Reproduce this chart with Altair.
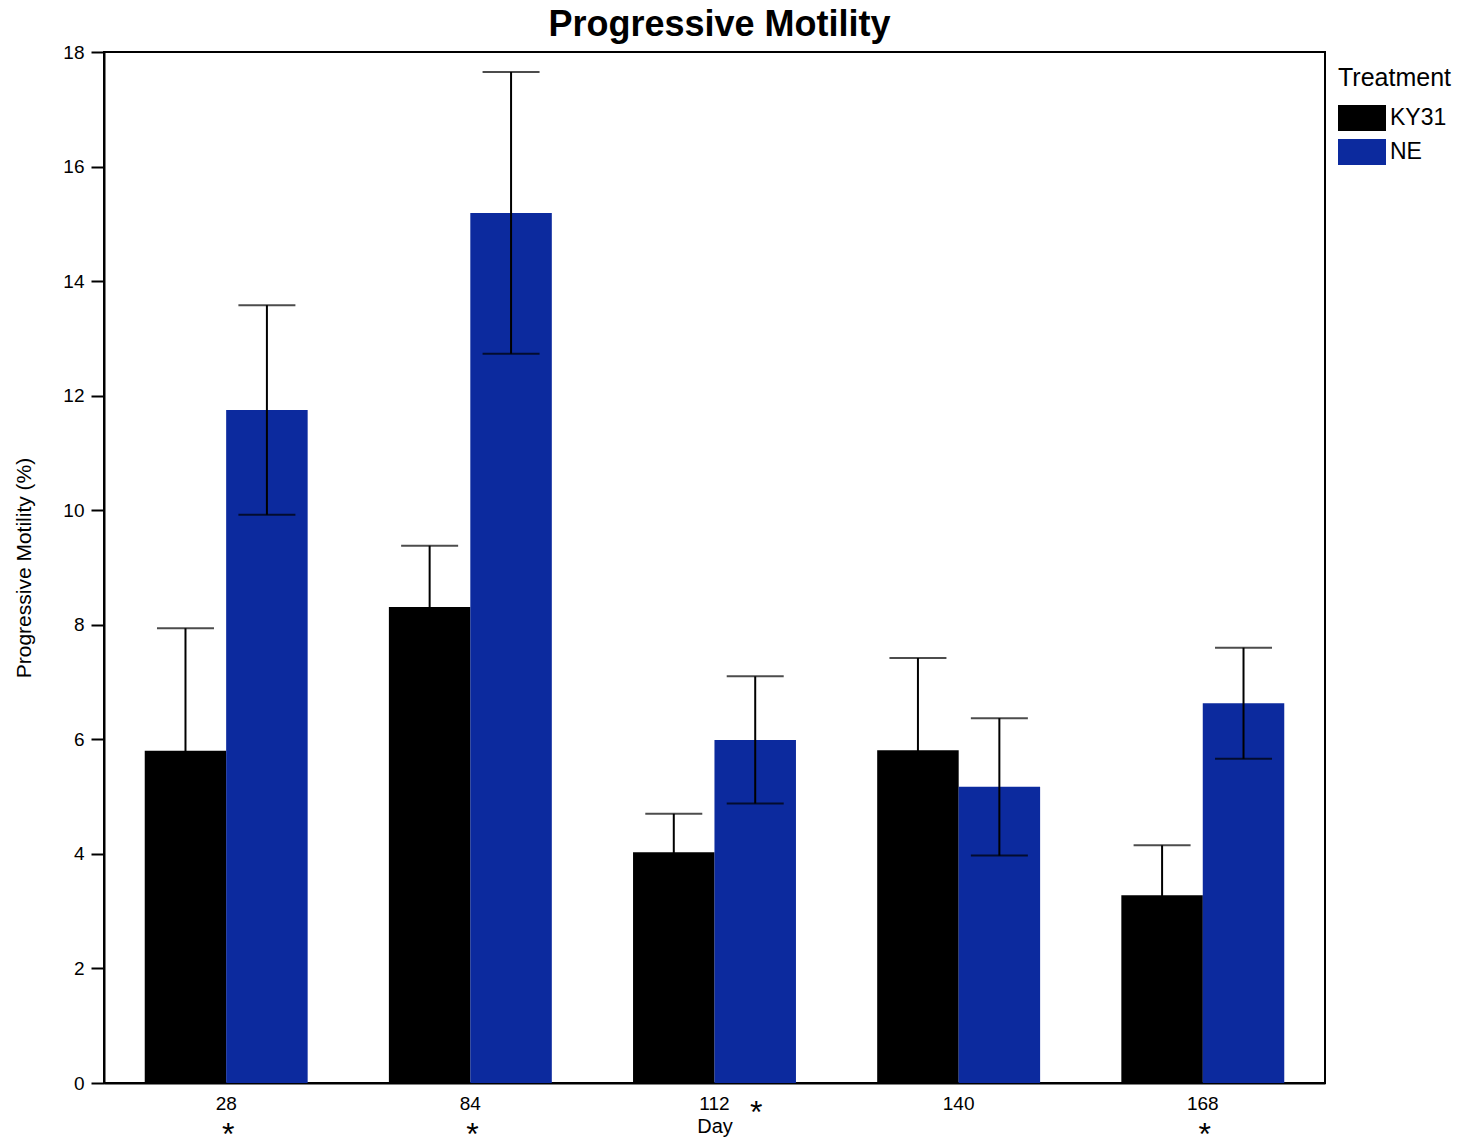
import altair as alt
import pandas as pd

days = ["28", "84", "112", "140", "168"]
treatments = ["KY31", "NE"]
ky31_mean = [5.80, 8.31, 4.03, 5.81, 3.28]
ky31_err = [2.14, 1.07, 0.67, 1.61, 0.87]
ne_mean = [11.75, 15.19, 5.99, 5.17, 6.63]
ne_err = [1.83, 2.46, 1.11, 1.20, 0.97]
colors = ["#000000", "#0c2a9e"]

sig_center_days = ["28", "84", "168"]
sig_ne_days = ["112"]

rows = []
for i, d in enumerate(days):
    rows.append({"Day": d, "Treatment": "KY31", "mean": ky31_mean[i],
                 "lo": ky31_mean[i] - ky31_err[i], "hi": ky31_mean[i] + ky31_err[i]})
    rows.append({"Day": d, "Treatment": "NE", "mean": ne_mean[i],
                 "lo": ne_mean[i] - ne_err[i], "hi": ne_mean[i] + ne_err[i]})
df = pd.DataFrame(rows)

FONT = "Liberation Sans"

x_enc = alt.X("Day:N", sort=days,
              scale=alt.Scale(paddingInner=0.333, paddingOuter=0.167),
              axis=alt.Axis(title="Day", ticks=False, labelAngle=0, labelFontSize=19,
                            titleFontSize=20, titleFontWeight="normal", labelPadding=11,
                            titlePadding=3, domainColor="black", domainWidth=2,
                            labelColor="black", titleColor="black"))
xoff = alt.XOffset("Treatment:N", sort=treatments, scale=alt.Scale(paddingInner=0, paddingOuter=0))

y_scale = alt.Scale(domain=[0, 18], nice=False)
y_axis = alt.Axis(title="Progressive Motility (%)", values=list(range(0, 19, 2)), format="d",
                  grid=False, tickSize=13, tickWidth=2, tickColor="black", labelFontSize=19,
                  titleFontSize=21, titleFontWeight="normal", labelPadding=7,
                  titlePadding=28, domainColor="black", domainWidth=2,
                  labelColor="black", titleColor="black")

base = alt.Chart(df)

bars = base.mark_bar(size=81.5).encode(
    x=x_enc,
    xOffset=xoff,
    y=alt.Y("mean:Q", scale=y_scale, axis=y_axis),
    color=alt.Color("Treatment:N", sort=treatments,
                    scale=alt.Scale(domain=treatments, range=colors),
                    legend=alt.Legend(title="Treatment", titleFontSize=25, titleFontWeight="normal",
                                      labelFontSize=23, symbolType="M-1,-1.08 H3 V1.08 H-1 Z",
                                      symbolSize=576, symbolStrokeWidth=0, symbolOpacity=1,
                                      labelColor="black", titleColor="black",
                                      orient="none", legendX=1234, legendY=14,
                                      rowPadding=8, titlePadding=15, labelOffset=28)),
)

err = base.mark_rule(color="black", strokeWidth=2).encode(
    x=alt.X("Day:N", sort=days), xOffset=xoff,
    y=alt.Y("lo:Q", scale=y_scale), y2="hi:Q",
)
cap_hi = base.mark_tick(color="black", thickness=2, size=57, orient="horizontal").encode(
    x=alt.X("Day:N", sort=days), xOffset=xoff, y=alt.Y("hi:Q", scale=y_scale),
)
cap_lo = base.mark_tick(color="black", thickness=2, size=57, orient="horizontal").encode(
    x=alt.X("Day:N", sort=days), xOffset=xoff, y=alt.Y("lo:Q", scale=y_scale),
)

sig1 = alt.Chart(pd.DataFrame({"Day": sig_center_days, "s": ["*"] * len(sig_center_days)})).mark_text(
    fontSize=32, font=FONT, baseline="middle", align="center", color="black", dx=2
).encode(x=alt.X("Day:N", sort=days), y=alt.value(1083), text="s:N")

sig2 = alt.Chart(pd.DataFrame({"Day": sig_ne_days, "Treatment": ["NE"] * len(sig_ne_days),
                               "s": ["*"] * len(sig_ne_days)})).mark_text(
    fontSize=32, font=FONT, baseline="middle", align="center", color="black", dx=1
).encode(x=alt.X("Day:N", sort=days), xOffset=alt.XOffset("Treatment:N", sort=treatments),
         y=alt.value(1061), text="s:N")

chart = alt.layer(bars, err, cap_hi, cap_lo, sig1, sig2).properties(
    width=1221, height=1031,
    title=alt.Title("Progressive Motility", fontSize=36, fontWeight="bold", color="black",
                    anchor="middle", offset=-1, dx=5),
    autosize=alt.AutoSizeParams(type="none"),
    padding={"left": 96, "top": 44, "right": 128, "bottom": 60},
).configure(font=FONT).configure_view(stroke="black", strokeWidth=2)

chart.save("out.html", embed_options={"renderer": "svg", "actions": False})
